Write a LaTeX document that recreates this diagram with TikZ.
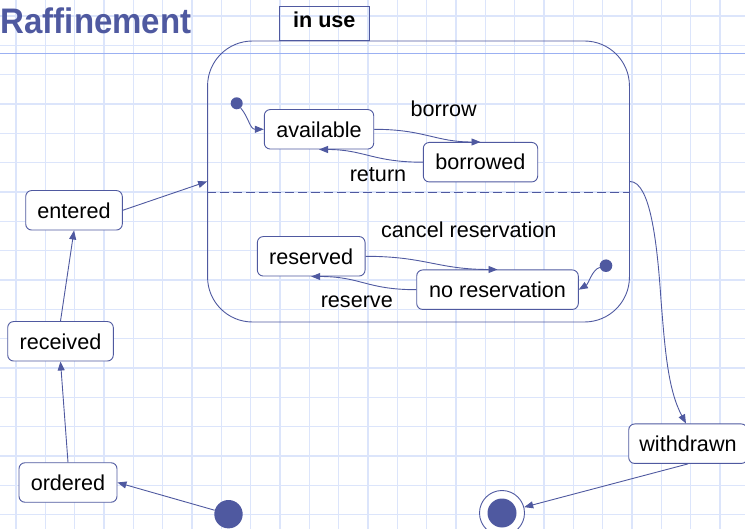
\documentclass[tikz,border=0pt]{standalone}
\usepackage{graphicx}
\usepackage{fontspec}
\setmainfont{Liberation Sans}
\usetikzlibrary{arrows.meta}
\definecolor{umlblue}{HTML}{4F59A0}
\definecolor{gridblue}{HTML}{DCE5FB}
\definecolor{ruleblue}{HTML}{9BB0F2}
\newcommand{\statefont}{\fontsize{21.6pt}{24pt}\selectfont}
\begin{document}
\begin{tikzpicture}[x=1pt,y=-1pt,
  gridline/.style={draw=gridblue, line width=1.4pt},
  state/.style={draw=umlblue, line width=0.9pt, fill=white, rounded corners=6pt,
    minimum height=39.5pt, inner sep=0pt, text height=15.5pt, text depth=0pt, font=\statefont},
  dot/.style={circle, fill=umlblue, inner sep=0pt, minimum size=#1},
  trans/.style={draw=umlblue, line width=0.9pt, -{Triangle[length=9pt,width=7pt]}},
  lbl/.style={anchor=base, inner sep=0pt, font=\statefont}]
\useasboundingbox (0,0) rectangle (745,529);
\clip (0,0) rectangle (745,529);

% squared paper
\foreach \k in {0,...,25} \draw[gridline] ({16+29.33*\k},0) -- ({16+29.33*\k},529);
\foreach \k in {0,...,17} \draw[gridline] (0,{16+29.33*\k}) -- (745,{16+29.33*\k});
\draw[ruleblue, line width=1.5pt] (0,53.5) -- (745,53.5);

% title
\node[anchor=base west, inner sep=0pt, text=umlblue,
      font=\bfseries\fontsize{35.5pt}{40pt}\selectfont] (title) at (0.5,33.3)
      {\scalebox{0.93}[1]{Raffinement}};

% composite state with its name tab
\node[draw=umlblue, line width=0.9pt, rounded corners=45pt, minimum width=421.9pt,
      minimum height=281pt, inner sep=0pt] (inuse) at (418.5,181.5) {};
\node[draw=umlblue, line width=0.9pt, minimum width=90pt, minimum height=34.3pt,
      inner sep=0pt, text height=15.5pt, text depth=8.5pt, font=\bfseries\statefont]
      (tab) at (324.3,23.8) {in use};
\draw[umlblue, line width=0.9pt, dash pattern=on 9pt off 4pt]
  ([yshift=-10.8pt]inuse.west) -- ([yshift=-10.8pt]inuse.east);

% states
\node[state, minimum width=109.4pt] (avail)    at (319,129.3)   {available};
\node[state, minimum width=114.4pt] (borrowed) at (480.5,162.2) {borrowed};
\node[state, minimum width=107.7pt] (reserved) at (311.2,256.3) {reserved};
\node[state, minimum width=161.6pt] (noreserv) at (497.5,289.7) {no reservation};
\node[state, minimum width=96.6pt]  (entered)  at (74,210.3)    {entered};
\node[state, minimum width=105.6pt] (received) at (60.5,341.3)  {received};
\node[state, minimum width=98pt]    (ordered)  at (68,482.5)    {ordered};
\node[state, minimum width=118.6pt] (withdrawn) at (688,443.7)  {withdrawn};

% pseudo states
\node[dot=12pt]   (i1) at (236.7,103.3) {};
\node[dot=12.6pt] (i2) at (606,265.7) {};
\node[dot=28.4pt] (i0) at (228.5,514.2) {};
\node[circle, draw=umlblue, line width=0.9pt, fill=white, inner sep=0pt,
      minimum size=45pt] (final) at (502,513) {};
\fill[umlblue] (final.center) circle (14.5pt);

% transitions
\draw[trans] (i1) .. controls +(12,14) and +(-14,0) .. (avail.west);
\draw[trans] (avail.east) .. controls +(50,0) and +(-45,0) .. (borrowed.north);
\draw[trans] (borrowed.west) .. controls +(-50,0) and +(45,0) .. (avail.south);
\draw[trans] (reserved.east) .. controls +(60,0) and +(-60,0) .. (noreserv.north);
\draw[trans] (noreserv.west) .. controls +(-50,0) and +(50,0) .. (reserved.south);
\draw[trans] (i2) .. controls +(-14,4) and +(10,-6) .. (noreserv.east);
\draw[trans] (entered.east) -- (inuse.west);
\draw[trans] (inuse.east) .. controls +(20,0) and (657,240) .. (661,300)
  .. controls (665,350) and (668,390) .. ([xshift=-2pt]withdrawn.north);
\draw[trans] (withdrawn.south) -- (final);
\draw[trans] (i0) -- (ordered.east);
\draw[trans] (ordered.north) -- (received.south);
\draw[trans] (received.north) -- (entered.south);

% transition labels
\node[lbl] (lborrow)  at (443.7,116.7) {borrow};
\node[lbl] (lreturn)  at (378,181.7)   {return};
\node[lbl] (lcancel)  at (468.8,237.3) {cancel reservation};
\node[lbl] (lreserve) at (356.8,307.7) {reserve};
\end{tikzpicture}
\end{document}
